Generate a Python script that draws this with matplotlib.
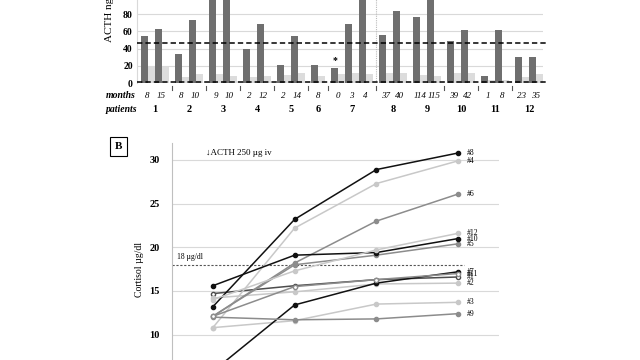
"""Two-panel figure: ACTH bars per patient (A) and cortisol response to ACTH test (B)."""
import matplotlib

matplotlib.use("Agg")
import matplotlib.pyplot as plt
from matplotlib import transforms

W, H = 640, 360
SERIF = ["Liberation Serif", "DejaVu Serif"]

# --- panel A data ---
patients = ["1", "2", "3", "4", "5", "6", "7", "8", "9", "10", "11", "12"]
months = [[8, 15], [8, 10], [9, 10], [2, 12], [2, 14], [8], [0, 3, 4],
          [37, 40], [114, 115], [39, 42], [1, 8], [23, 35]]
acth = [[55, 63], [34, 73], [118, 112], [40, 68], [21, 55], [21], [18, 68, 108],
        [56, 83], [76, 110], [49, 62], [8, 61], [30, 30]]
light_series = [[20, 19], [7, 11], [11, 8], [7, 8], [10, 12], [8], [11, 12, 11],
                [12, 12], [10, 8], [12, 12], [4, 4], [7, 11]]
acth_limits = [46, 1]

# --- panel B data ---
minutes = [0, 30, 60, 90]
patient_ids = ["#1", "#2", "#3", "#4", "#5", "#6", "#7", "#8", "#9", "#10", "#11", "#12"]
cortisol = [
    [14.7, 15.6, 16.3, 16.6],
    [14.2, 14.9, 15.8, 15.9],
    [10.8, 11.6, 13.5, 13.7],
    [10.8, 22.2, 27.3, 29.9],
    [12.1, 18.0, 19.1, 20.4],
    [12.1, 18.2, 23.0, 26.1],
    [5.8, 13.4, 15.9, 17.2],
    [13.2, 23.2, 28.9, 30.8],
    [12.0, 11.7, 11.8, 12.4],
    [15.6, 19.1, 19.4, 21.0],
    [12.1, 15.5, 16.3, 17.0],
    [14.0, 17.3, 19.7, 21.6],
]
cortisol_cutoff = 18

BLACK, DARK, GRAY, LIGHT = "#111111", "#4d4d4d", "#8c8c8c", "#c8c8c8"
line_styles = {
    "#1": (DARK, True), "#2": (LIGHT, False), "#3": (LIGHT, False),
    "#4": (LIGHT, False), "#5": (GRAY, False), "#6": (GRAY, False),
    "#7": (BLACK, False), "#8": (BLACK, False), "#9": (GRAY, False),
    "#10": (BLACK, False), "#11": (GRAY, True), "#12": (LIGHT, False),
}


def fx(px):
    return px / W


def fy(py):
    return 1 - py / H


fig = plt.figure(figsize=(6.4, 3.6), dpi=100)

# ---------------- panel A ----------------
ax_a = fig.add_axes([fx(137), fy(83.3), fx(543) - fx(137), 86.6 / H])
gap = 0.43
dark_w = 0.47
start = 0.3
group_starts = []
for ms, dark_vals, light_vals in zip(months, acth, light_series):
    group_starts.append(start)
    lefts = [start + j for j in range(len(ms))]
    ax_a.bar(lefts, dark_vals, width=dark_w, align="edge", color="#6f6f6f", zorder=2)
    ax_a.bar([l + dark_w for l in lefts], light_vals, width=1 - dark_w,
             align="edge", color="#dcdcdc", zorder=2)
    start += len(ms) + gap

ax_a.set_xlim(0, 29.0)
ax_a.set_ylim(0, 100)
ax_a.set_yticks([0, 20, 40, 60, 80, 100])
ax_a.set_xticks([])
ax_a.yaxis.grid(True, color="#d9d9d9", lw=0.8)
ax_a.set_axisbelow(True)
ax_a.tick_params(axis="y", length=0, pad=3)
for lab in ax_a.get_yticklabels():
    lab.set_fontfamily(SERIF)
    lab.set_fontweight("bold")
    lab.set_fontsize(7)
for side in ["top", "right", "bottom"]:
    ax_a.spines[side].set_visible(False)
ax_a.spines["left"].set_color("#d9d9d9")

for level in acth_limits:
    ax_a.plot([0, 29.35], [level, level], color="black", lw=1.1,
              ls=(0, (3.5, 2)), clip_on=False, zorder=4)

# asterisk over patient 7, first visit
ax_a.text(group_starts[6] + dark_w / 2, acth[6][0] + 3, "*", ha="center",
          va="bottom", fontsize=7, fontfamily=SERIF, fontweight="bold")

trans_a = transforms.blended_transform_factory(ax_a.transData, fig.transFigure)
for i, (gs, ms) in enumerate(zip(group_starts, months)):
    for j, m in enumerate(ms):
        ax_a.text(gs + j + 0.45, fy(96), str(m), transform=trans_a, ha="center",
                  va="center", fontsize=6.5, fontstyle="italic", fontfamily=SERIF)
    ax_a.text(gs + len(ms) / 2, fy(109), patients[i], transform=trans_a,
              ha="center", va="center", fontsize=7.5, fontweight="bold",
              fontfamily=SERIF)
    if i < len(months) - 1 and i != 7:
        sep = gs + len(ms) + gap / 2
        ax_a.plot([sep, sep], [fy(86), fy(90)], transform=trans_a, color="#555555",
                  lw=0.8, clip_on=False)

# dotted divider between patients 7 and 8
div = group_starts[7] - gap / 2
ax_a.plot([div, div], [0, 100], color="#bbbbbb", lw=0.8, ls=(0, (1, 1)), zorder=1)

fig.text(fx(106), fy(96), "months", ha="left", va="center", fontsize=7,
         fontstyle="italic", fontweight="bold", fontfamily=SERIF)
fig.text(fx(106), fy(109), "patients", ha="left", va="center", fontsize=7,
         fontstyle="italic", fontweight="bold", fontfamily=SERIF)
fig.text(fx(110), fy(42), "ACTH ng/l", rotation=90, ha="center", va="bottom",
         fontsize=8, fontfamily=SERIF)

# ---------------- panel B ----------------
ax_b = fig.add_axes([fx(172), fy(378.3), fx(499) - fx(172), (378.3 - 142.5) / H])
ax_b.set_xlim(-15, 105)
ax_b.set_ylim(5, 32)
ax_b.set_yticks([5, 10, 15, 20, 25, 30])
ax_b.set_xticks([])
ax_b.yaxis.grid(True, color="#d9d9d9", lw=0.8)
ax_b.set_axisbelow(True)
ax_b.tick_params(axis="y", length=0, pad=9)
for lab in ax_b.get_yticklabels():
    lab.set_fontfamily(SERIF)
    lab.set_fontweight("bold")
    lab.set_fontsize(7.5)
for side in ["top", "right", "bottom"]:
    ax_b.spines[side].set_visible(False)
ax_b.spines["left"].set_color("#bfbfbf")

ax_b.plot([-15, 92], [cortisol_cutoff, cortisol_cutoff], color="#555555",
          lw=0.8, ls=(0, (2, 1.5)), zorder=1)
ax_b.text(-13.2, cortisol_cutoff + 0.4, "18 µg/dl", fontsize=5.5,
          fontfamily=SERIF, va="bottom", ha="left")

for pid, vals in zip(patient_ids, cortisol):
    color, hollow = line_styles[pid]
    ax_b.plot(minutes, vals, color=color, lw=1.1, marker="o", ms=3,
              mfc="white" if hollow else color, mec=color, zorder=3)
    ax_b.text(minutes[-1] + 3.3, vals[-1], pid, fontsize=5.5, fontfamily=SERIF,
              va="center", ha="left")

ax_b.text(-2.5, 30.8, "\u2193ACTH 250 µg iv", fontsize=6.5, fontfamily=SERIF,
          va="center", ha="left")

fig.text(fx(140), fy(269), "Cortisol µg/dl", rotation=90, ha="center",
         va="center", fontsize=7, fontfamily=SERIF)
fig.text(fx(118.5), fy(146.5), "B", ha="center", va="center", fontsize=8,
         fontweight="bold", fontfamily=SERIF,
         bbox=dict(boxstyle="square,pad=0.45", fc="white", ec="black", lw=0.8))

fig.savefig("out.png", dpi=100)
